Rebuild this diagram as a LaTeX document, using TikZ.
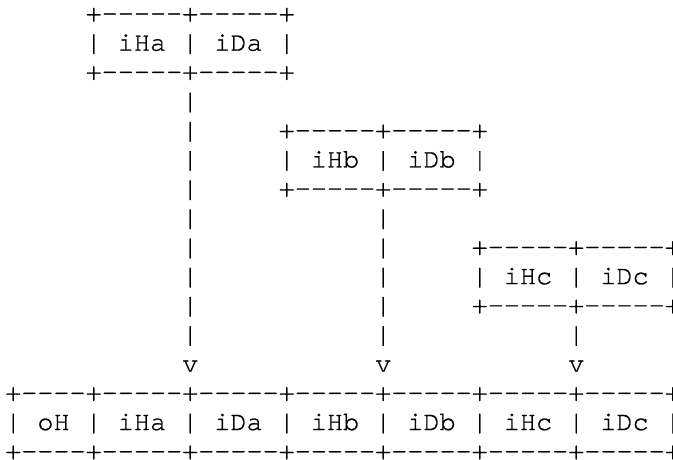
\documentclass[tikz,border=0pt]{standalone}
\usepackage{fontspec}
\setmonofont[FakeBold=0.8]{TeX Gyre Cursor}
\tikzset{asciirow/.style={anchor=base west, inner sep=0pt, outer sep=0pt, text=black,
  font=\ttfamily\fontsize{26.81pt}{29.18pt}\selectfont}}
\begin{document}
\begin{tikzpicture}[x=1pt,y=1pt]
\useasboundingbox (0,0) rectangle (673,459);
\node[asciirow] (r0)  at (85.68,437.50) {+-----+-----+};
\node[asciirow] (r1)  at (85.68,408.32) {|~iHa~|~iDa~|};
\node[asciirow] (r2)  at (85.68,379.14) {+-----+-----+};
\node[asciirow] (r3)  at (182.20,349.96) {|};
\node[asciirow] (r4)  at (182.20,320.78) {|~~~~~+-----+-----+};
\node[asciirow] (r5)  at (182.20,291.60) {|~~~~~|~iHb~|~iDb~|};
\node[asciirow] (r6)  at (182.20,262.42) {|~~~~~+-----+-----+};
\node[asciirow] (r7)  at (182.20,233.24) {|~~~~~~~~~~~|};
\node[asciirow] (r8)  at (182.20,204.06) {|~~~~~~~~~~~|~~~~~+-----+-----+};
\node[asciirow] (r9)  at (182.20,174.88) {|~~~~~~~~~~~|~~~~~|~iHc~|~iDc~|};
\node[asciirow] (r10) at (182.20,145.70) {|~~~~~~~~~~~|~~~~~+-----+-----+};
\node[asciirow] (r11) at (182.20,116.52) {|~~~~~~~~~~~|~~~~~~~~~~~|};
\node[asciirow] (r12) at (182.20,87.34) {v~~~~~~~~~~~v~~~~~~~~~~~v};
\node[asciirow] (r13) at (5.25,58.16) {+----+-----+-----+-----+-----+-----+-----+};
\node[asciirow] (r14) at (5.25,28.98) {|~oH~|~iHa~|~iDa~|~iHb~|~iDb~|~iHc~|~iDc~|};
\node[asciirow] (r15) at (5.25,-0.20) {+----+-----+-----+-----+-----+-----+-----+};
\end{tikzpicture}
\end{document}
